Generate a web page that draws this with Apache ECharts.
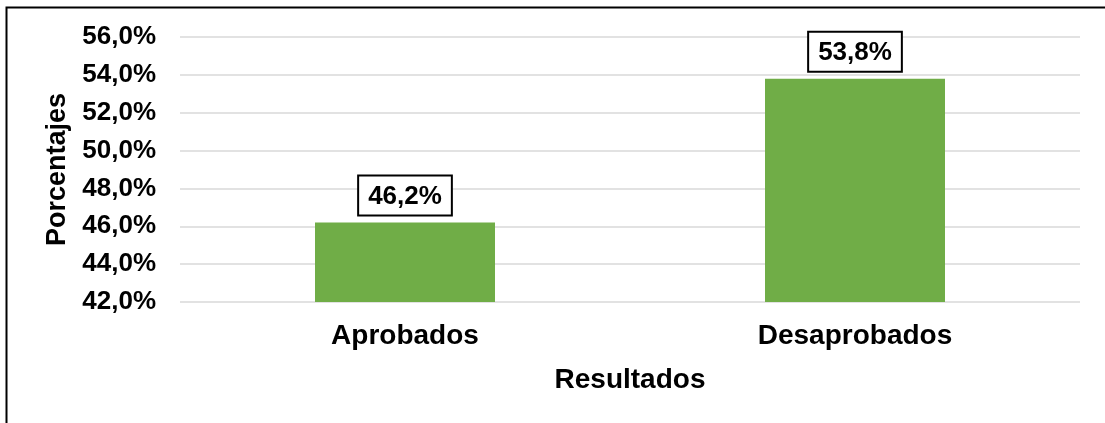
<!DOCTYPE html>
<html>
<head>
<meta charset="utf-8">
<script src="https://cdn.jsdelivr.net/npm/echarts@6/dist/echarts.min.js"></script>
<style>
  body { margin: 0; background: #fff; }
  #chart { width: 1105px; height: 423px; }
</style>
</head>
<body>
<div id="chart"></div>
<script>
// datos del gráfico
var categorias = ['Aprobados', 'Desaprobados'];
var porcentajes = [46.2, 53.8];
var ejeY = { min: 42, max: 56, paso: 2 };

function fmt(v, dec) {
  return v.toFixed(dec).replace('.', ',') + '%';
}

var chart = echarts.init(document.getElementById('chart'));
var option = {
  animation: false,
  textStyle: { fontFamily: 'Liberation Sans, Arial, sans-serif' },
  // marco exterior
  graphic: [{
    type: 'rect',
    shape: { x: 6.5, y: 7.5, width: 1300, height: 600 },
    style: { fill: 'none', stroke: '#000', lineWidth: 2 },
    silent: true
  }],
  grid: { left: 180, right: 25, top: 37, bottom: 121 },
  xAxis: {
    type: 'category',
    data: categorias,
    name: 'Resultados',
    nameLocation: 'middle',
    nameGap: 64,
    nameTextStyle: { color: '#000', fontSize: 28, fontWeight: 'bold' },
    axisLine: { show: false },
    axisTick: { show: false },
    axisLabel: { color: '#000', fontSize: 28, fontWeight: 'bold', margin: 20 }
  },
  yAxis: {
    type: 'value',
    min: ejeY.min,
    max: ejeY.max,
    interval: ejeY.paso,
    name: 'Porcentajes',
    nameLocation: 'middle',
    nameGap: 102,
    nameTextStyle: { color: '#000', fontSize: 27, fontWeight: 'bold' },
    axisLine: { show: false },
    axisTick: { show: false },
    splitLine: { lineStyle: { color: '#d9d9d9', width: 1.5 } },
    axisLabel: {
      color: '#000', fontSize: 26, fontWeight: 'bold', margin: 24,
      formatter: function (v) { return fmt(v, 1); }
    }
  },
  series: [{
    type: 'bar',
    data: porcentajes,
    barWidth: '40%',
    itemStyle: { color: '#70ad47' },
    label: {
      show: true,
      position: 'top',
      distance: 8,
      color: '#000',
      fontSize: 26,
      fontWeight: 'bold',
      backgroundColor: '#fff',
      borderColor: '#000',
      borderWidth: 2,
      padding: [7, 9, 5, 9],
      formatter: function (p) { return fmt(p.value, 1); }
    }
  }]
};
chart.setOption(option);
</script>
</body>
</html>
